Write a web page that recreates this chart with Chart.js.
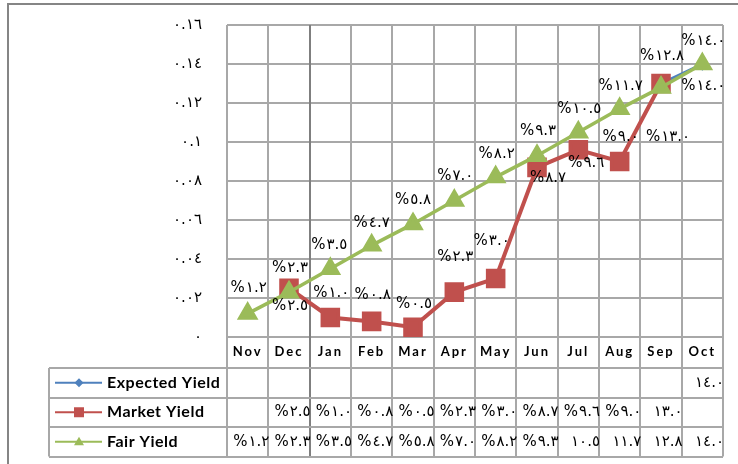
<!DOCTYPE html>
<html>
<head>
<meta charset="utf-8">
<script src="https://cdn.jsdelivr.net/npm/chart.js@4.4.1/dist/chart.umd.min.js"></script>
<style>
  body { margin: 0; background: #fff; }
  #box { width: 738px; height: 464px; position: relative; }
</style>
</head>
<body>
<div id="box"><canvas id="myChart"></canvas></div>
<script>
const months = ['Nov', 'Dec', 'Jan', 'Feb', 'Mar', 'Apr', 'May', 'Jun', 'Jul', 'Aug', 'Sep', 'Oct'];
const expectedYield = [null, null, null, null, null, null, null, null, null, null, 0.130, 0.140];
const marketYield = [null, 0.025, 0.010, 0.008, 0.005, 0.023, 0.030, 0.087, 0.096, 0.090, 0.130, null];
const fairYield = [0.012, 0.023, 0.035, 0.047, 0.058, 0.070, 0.082, 0.093, 0.105, 0.117, 0.128, 0.140];
const yTickLabels = ['٠', '٠.٠٢', '٠.٠٤', '٠.٠٦', '٠.٠٨', '٠.١', '٠.١٢', '٠.١٤', '٠.١٦'];

// where each value label sits relative to its point (null = no label / no table cell)
const labelPlacement = [
    [null, null, null, null, null, null, null, null, null, null, null, [0, -23]],
    [null, [0, 18], [0, -24], [0, -26], [0, -23], [0, -35], [-5, -37], [10, 11], [7, 13], [0, -24], [6, 54], null],
    [[0, -25], [0, -24], [-2, -24], [-1, -22], [-1, -24], [0, -24], [0, -23], [0, -25], [0, -23], [0, -23], [0, -31], [0, 22]]
];

const blue = '#4f81bd';
const red = '#c0504d';
const green = '#9bbb59';
const gridColor = '#a8a8a8';
const arFont = '15px "DejaVu Sans"';

const arDigits = '٠١٢٣٤٥٦٧٨٩';
function toArabic(s) {
    return s.replace(/[0-9]/g, d => arDigits[d]);
}
function num(v) {
    return toArabic((Math.round(v * 1000) / 10).toFixed(1));
}
function pctLabel(v) {
    return '%' + num(v);
}
// the data table drops the percent sign once a value reaches two digits
function tableLabel(v) {
    return v >= 0.1 ? num(v) : pctLabel(v);
}

const tablePlugin = {
    id: 'yieldTable',
    beforeDraw(chart) {
        const c = chart.ctx;
        c.save();
        c.fillStyle = '#fff';
        c.fillRect(0, 0, chart.width, chart.height);
        // outer frame
        c.strokeStyle = '#858585';
        c.lineWidth = 2;
        c.beginPath();
        c.moveTo(8, chart.height);
        c.lineTo(8, 4);
        c.lineTo(chart.width, 4);
        c.stroke();
        c.restore();
        // axis text is drawn a little spread out
        c.letterSpacing = '2px';
    },
    beforeDatasetsDraw(chart) {
        const c = chart.ctx;
        const area = chart.chartArea;
        const xs = chart.scales.x;
        const half = (xs.getPixelForValue(1) - xs.getPixelForValue(0)) / 2;
        const tableTop = area.bottom + 31;
        const rowH = 29.5;
        const tableBottom = tableTop + rowH * 3;
        c.save();
        c.lineWidth = 2;
        for (let i = 0; i <= months.length; i++) {
            const x = i < months.length ? xs.getPixelForValue(i) - half : area.right;
            c.strokeStyle = i === 2 ? '#7f7f7f' : gridColor;
            c.beginPath();
            c.moveTo(Math.round(x), area.top);
            c.lineTo(Math.round(x), tableBottom);
            c.stroke();
        }
        c.strokeStyle = gridColor;
        for (let r = 0; r <= 3; r++) {
            const y = Math.round(tableTop + r * rowH);
            c.beginPath();
            c.moveTo(49, y);
            c.lineTo(area.right, y);
            c.stroke();
        }
        c.beginPath();
        c.moveTo(49, tableTop);
        c.lineTo(49, tableBottom);
        c.stroke();
        c.restore();
    },
    afterDatasetsDraw(chart) {
        const c = chart.ctx;
        const area = chart.chartArea;
        const xs = chart.scales.x;
        const ys = chart.scales.y;
        const half = (xs.getPixelForValue(1) - xs.getPixelForValue(0)) / 2;
        const tableTop = area.bottom + 31;
        const rowH = 29.5;
        c.save();
        c.fillStyle = '#000';
        c.font = arFont;
        c.letterSpacing = '1px';
        c.textBaseline = 'middle';

        chart.data.datasets.forEach((ds, s) => {
            // point labels
            c.textAlign = 'center';
            ds.data.forEach((v, i) => {
                const p = labelPlacement[s][i];
                if (v === null || !p) return;
                c.fillText(pctLabel(v), xs.getPixelForValue(i) + p[0] + 1, ys.getPixelForValue(v) + p[1]);
            });
            // data table row
            const rowY = tableTop + rowH * s + rowH / 2;
            c.textAlign = 'right';
            ds.data.forEach((v, i) => {
                if (v === null || !labelPlacement[s][i]) return;
                c.fillText(tableLabel(v), xs.getPixelForValue(i) + half + 1, rowY);
            });
            // legend key
            c.strokeStyle = ds.borderColor;
            c.lineWidth = 2;
            c.beginPath();
            c.moveTo(55, rowY);
            c.lineTo(102, rowY);
            c.stroke();
            c.fillStyle = ds.borderColor;
            c.beginPath();
            if (ds.pointStyle === 'rectRot') {
                c.moveTo(79, rowY - 4.5); c.lineTo(83.5, rowY); c.lineTo(79, rowY + 4.5); c.lineTo(74.5, rowY);
            } else if (ds.pointStyle === 'rect') {
                c.rect(74, rowY - 5, 10, 10);
            } else {
                c.moveTo(79, rowY - 5); c.lineTo(84, rowY + 3.5); c.lineTo(74, rowY + 3.5);
            }
            c.closePath();
            c.fill();
            c.fillStyle = '#000';
            c.save();
            c.letterSpacing = '0.5px';
            c.font = 'bold 16px Lato';
            c.textAlign = 'left';
            c.fillText(ds.label, 107, rowY);
            c.restore();
            c.font = arFont;
        });
        c.restore();
    }
};

let ctx = document.getElementById('myChart').getContext('2d');
let myChart = new Chart(ctx, {
    type: 'line',
    data: {
        labels: months,
        datasets: [{
                label: 'Expected Yield',
                data: expectedYield,
                borderColor: blue,
                backgroundColor: blue,
                borderWidth: 2.5,
                pointStyle: 'rectRot',
                pointRadius: c => c.dataIndex === expectedYield.length - 1 ? 5 : 0,
                order: 3
            }, {
                label: 'Market Yield',
                data: marketYield,
                borderColor: red,
                backgroundColor: red,
                borderWidth: 4,
                pointStyle: 'rect',
                pointRadius: 11,
                order: 2
            }, {
                label: 'Fair Yield',
                data: fairYield,
                borderColor: green,
                backgroundColor: green,
                borderWidth: 3.5,
                pointStyle: 'triangle',
                pointRadius: 9,
                order: 1
            }]
    },
    options: {
        responsive: true,
        maintainAspectRatio: false,
        animation: false,
        layout: {
            padding: { top: 25, right: 15, bottom: 96, left: 0 }
        },
        elements: {
            line: { tension: 0 },
            point: { borderWidth: 0 }
        },
        scales: {
            x: {
                offset: true,
                grid: { display: false, drawTicks: false },
                border: { display: false },
                ticks: {
                    color: '#000',
                    padding: 7,
                    maxRotation: 0,
                    font: { family: 'Lato', size: 13, weight: 'bold' }
                },
                afterFit(scale) {
                    scale.height = 31;
                }
            },
            y: {
                min: 0,
                max: 0.16,
                ticks: {
                    stepSize: 0.02,
                    color: '#000',
                    padding: 25,
                    font: { family: 'DejaVu Sans', size: 15 },
                    callback: (v, i) => yTickLabels[i]
                },
                grid: { color: gridColor, lineWidth: 2, drawTicks: false },
                border: { display: false },
                afterFit(scale) {
                    scale.width = 227;
                    // tick padding is horizontal here, keep it out of the top/bottom margins
                    scale.paddingTop = 8;
                    scale.paddingBottom = 8;
                }
            }
        },
        plugins: {
            legend: { display: false },
            title: { display: false },
            tooltip: { enabled: false }
        }
    },
    plugins: [tablePlugin]
});
</script>
</body>
</html>
